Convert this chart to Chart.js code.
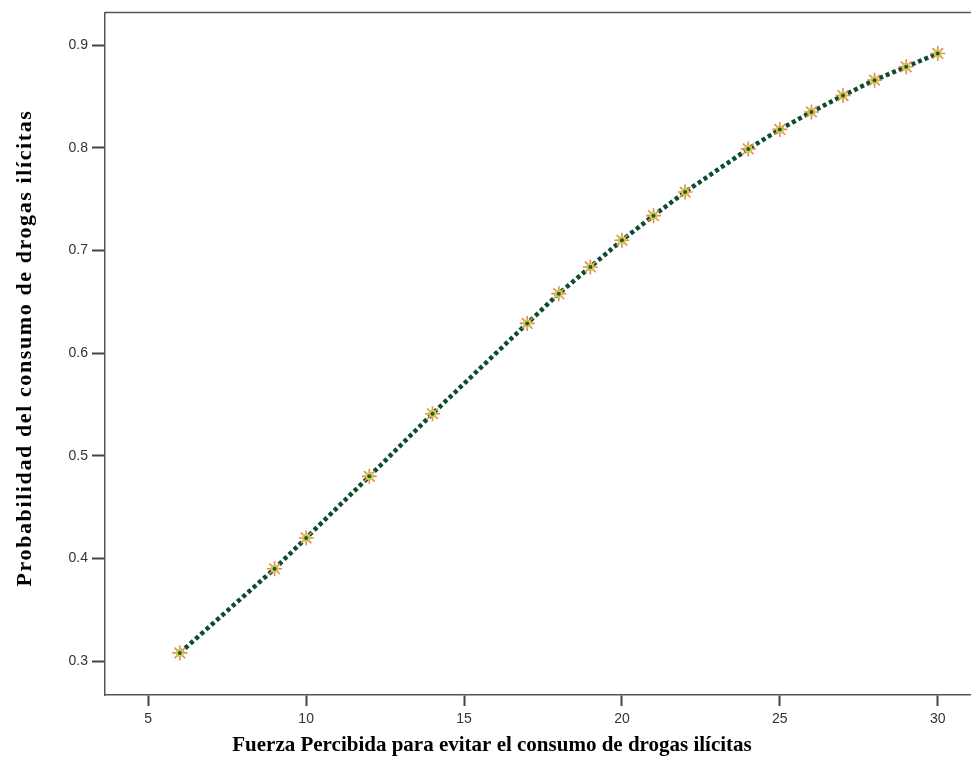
<!DOCTYPE html>
<html>
<head>
<meta charset="utf-8">
<script src="https://cdn.jsdelivr.net/npm/chart.js@4/dist/chart.umd.min.js"></script>
<style>
html,body{margin:0;padding:0;background:#fff;overflow:hidden;}
#wrap{width:971px;height:784px;position:relative;overflow:hidden;}
</style>
</head>
<body>
<div id="wrap"><canvas id="c" width="980" height="784"></canvas></div>
<script>
const fuerza = [6, 9, 10, 12, 14, 17, 18, 19, 20, 21, 22, 24, 25, 26, 27, 28, 29, 30];
const probabilidad = [0.308, 0.390, 0.420, 0.480, 0.541, 0.629, 0.658, 0.684, 0.710, 0.734, 0.757, 0.799, 0.818, 0.835, 0.851, 0.866, 0.879, 0.892];
const xTicks = [5, 10, 15, 20, 25, 30];
const yTicks = [0.3, 0.4, 0.5, 0.6, 0.7, 0.8, 0.9];
const xTitle = 'Fuerza Percibida para evitar el consumo de drogas ilícitas';
const yTitle = 'Probabilidad del consumo de drogas ilícitas';

const pts = fuerza.map((x, i) => ({x: x, y: probabilidad[i]}));

const frameAndTitles = {
  id: 'frameAndTitles',
  afterDraw(chart) {
    const {ctx, chartArea} = chart;
    ctx.save();
    ctx.strokeStyle = '#555';
    ctx.lineWidth = 1.5;
    ctx.beginPath();
    ctx.moveTo(chartArea.left, chartArea.top);
    ctx.lineTo(chartArea.right, chartArea.top);
    ctx.stroke();

    ctx.fillStyle = '#000';
    ctx.font = 'bold 21px "Liberation Serif"';
    ctx.textAlign = 'center';
    ctx.textBaseline = 'middle';
    ctx.fillText(xTitle, 492, 746);

    ctx.translate(25, 348);
    ctx.rotate(-Math.PI / 2);
    ctx.font = 'bold 22px "Liberation Serif"';
    ctx.letterSpacing = '1.6px';
    ctx.fillText(yTitle, 0, 0);
    ctx.restore();
  }
};

new Chart(document.getElementById('c'), {
  type: 'scatter',
  data: {
    datasets: [
      {
        data: pts,
        showLine: true,
        borderColor: '#0d4c2e',
        borderWidth: 4.5,
        borderDash: [4, 3],
        pointRadius: 0,
        tension: 0,
        order: 3
      },
      {
        data: pts,
        showLine: false,
        pointStyle: 'star',
        pointRadius: 7.5,
        pointBorderColor: '#e58a55',
        pointBorderWidth: 1.6,
        pointBackgroundColor: '#e58a55',
        order: 2
      },
      {
        data: pts,
        showLine: false,
        pointStyle: 'circle',
        pointRadius: 4,
        pointBorderWidth: 0,
        pointBackgroundColor: '#d2c84a',
        order: 1
      },
      {
        data: pts,
        showLine: false,
        pointStyle: 'circle',
        pointRadius: 2,
        pointBorderWidth: 0,
        pointBackgroundColor: '#1e5a30',
        order: 0
      }
    ]
  },
  options: {
    responsive: false,
    animation: false,
    layout: {padding: {left: 0, right: 0, top: 10, bottom: 0}},
    plugins: {legend: {display: false}, tooltip: {enabled: false}},
    scales: {
      x: {
        type: 'linear',
        min: 3.63,
        max: 31.05,
        afterBuildTicks: s => { s.ticks = xTicks.map(v => ({value: v})); },
        afterFit: s => { s.height = 89; },
        grid: {drawOnChartArea: false, tickLength: 11, tickColor: '#444', tickWidth: 2},
        border: {color: '#555', width: 1.5},
        ticks: {color: '#333', font: {family: 'Liberation Sans', size: 14}, padding: 5, maxRotation: 0, autoSkip: false},
        title: {display: false}
      },
      y: {
        type: 'linear',
        min: 0.267,
        max: 0.932,
        afterBuildTicks: s => { s.ticks = yTicks.map(v => ({value: v})); },
        afterFit: s => { s.width = 105; },
        grid: {drawOnChartArea: false, tickLength: 13, tickColor: '#444', tickWidth: 2},
        border: {color: '#555', width: 1.5},
        ticks: {color: '#333', font: {family: 'Liberation Sans', size: 14}, padding: 4, autoSkip: false, callback: v => v.toFixed(1)},
        title: {display: false}
      }
    }
  },
  plugins: [frameAndTitles]
});
</script>
</body>
</html>
